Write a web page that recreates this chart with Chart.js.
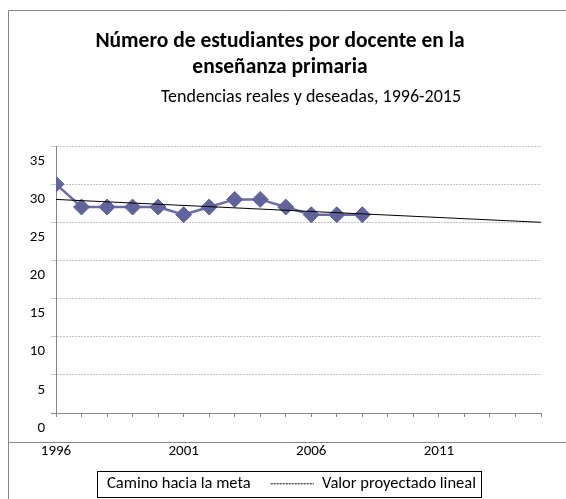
<!DOCTYPE html>
<html>
<head>
<meta charset="utf-8">
<script src="https://cdn.jsdelivr.net/npm/chart.js@4.4.1/dist/chart.umd.min.js"></script>
<style>
  html, body { margin: 0; padding: 0; background: #fff; overflow: hidden; }
</style>
</head>
<body>
<canvas id="chart-estudiantes-docente" width="566" height="499"></canvas>
<script>
// datos
const years = [1996, 1997, 1998, 1999, 2000, 2001, 2002, 2003, 2004, 2005, 2006, 2007, 2008];
const ratios = [30, 27, 27, 27, 27, 26, 27, 28, 28, 27, 26, 26, 26];
const trendYears = [1996, 2015];
const trendValues = [28.0, 25.0];
const seriesNames = ['Camino hacia la meta', 'Valor proyectado lineal'];
const xRange = [1996, 2015];
const xLabelStep = 5;
const yRange = [0, 35];
const yStep = 5;
const titleLines = ['Número de estudiantes por docente en la', 'enseñanza primaria'];
const subtitleText = 'Tendencias reales y deseadas, 1996-2015';

const fontFamily = "Carlito, Calibri, Lato, sans-serif";
const legendFontSize = 16.5;
const legendBoxWidth = 43;

function legendFrameBox(chart) {
  const hb = chart.legend.legendHitBoxes;
  return {
    x1: hb[0].left + legendBoxWidth + legendFontSize / 2 - 10,
    x2: hb[1].left + hb[1].width + 5,
    y1: hb[0].top + hb[0].height / 2 - 13
  };
}

// marco del grafico + recuadro de la leyenda
const frames = {
  id: 'frames',
  afterUpdate(chart) {
    const lg = chart.legend;
    const b = legendFrameBox(chart);
    const shift = 289 - (b.x1 + b.x2) / 2;
    lg.left += shift;
    lg.right += shift;
    lg.legendHitBoxes.forEach(h => { h.left += shift; });
  },
  beforeDraw(chart) {
    const ctx = chart.ctx;
    ctx.save();
    ctx.strokeStyle = '#868686';
    ctx.lineWidth = 1;
    ctx.beginPath();
    ctx.moveTo(566, 10.5);
    ctx.lineTo(8.5, 10.5);
    ctx.lineTo(8.5, 499);
    ctx.moveTo(8.5, 442.5);
    ctx.lineTo(566, 442.5);
    ctx.stroke();
    ctx.restore();
  },
  afterDraw(chart) {
    const ctx = chart.ctx;
    const b = legendFrameBox(chart);
    ctx.save();
    ctx.strokeStyle = '#000';
    ctx.lineWidth = 1;
    ctx.setLineDash([]);
    ctx.strokeRect(Math.round(b.x1) + 0.5, Math.round(b.y1) + 0.5, Math.round(b.x2 - b.x1), 26);
    ctx.font = '18px ' + fontFamily;
    ctx.fillStyle = '#000';
    ctx.textAlign = 'center';
    ctx.textBaseline = 'middle';
    ctx.fillText(subtitleText, 311, 97);
    ctx.restore();
  }
};

const chartElement = document.getElementById('chart-estudiantes-docente');

new Chart(chartElement, {
  type: 'line',
  data: {
    datasets: [
      {
        label: seriesNames[0],
        data: years.map((y, i) => ({ x: y, y: ratios[i] })),
        borderColor: '#6b6ba6',
        borderWidth: 2.5,
        pointStyle: 'rectRot',
        pointRadius: 8,
        pointHoverRadius: 8,
        pointBackgroundColor: '#63639c',
        pointBorderColor: '#63639c',
        pointBorderWidth: 1,
        order: 1
      },
      {
        label: seriesNames[1],
        data: trendYears.map((y, i) => ({ x: y, y: trendValues[i] })),
        borderColor: '#000',
        borderWidth: 1,
        pointRadius: 0,
        legendLine: '#555',
        order: 0
      }
    ]
  },
  options: {
    responsive: false,
    animation: false,
    layout: { padding: { top: 11, left: 16, right: 22, bottom: -3 } },
    scales: {
      x: {
        type: 'linear',
        min: xRange[0],
        max: xRange[1],
        border: { color: '#868686' },
        grid: { drawOnChartArea: false, tickLength: 4, color: '#868686' },
        ticks: {
          stepSize: 1,
          autoSkip: false,
          maxRotation: 0,
          padding: 25,
          color: '#000',
          font: { family: fontFamily, size: 15 },
          callback: v => (v - xRange[0]) % xLabelStep === 0 ? String(v) : ''
        },
        afterFit: s => { s.height = 42.5; }
      },
      y: {
        min: yRange[0],
        max: yRange[1],
        border: { color: '#868686', dash: [2, 1] },
        grid: {
          tickLength: 5,
          color: ctx => ctx.tick && ctx.tick.value === yRange[0] ? '#868686' : '#c4c4c4'
        },
        ticks: {
          stepSize: yStep,
          padding: 6,
          labelOffset: 15,
          color: '#000',
          font: { family: fontFamily, size: 15 }
        },
        afterFit: s => { s.width = 40; }
      }
    },
    plugins: {
      title: {
        display: true,
        text: titleLines,
        color: '#000',
        font: { family: fontFamily, size: 21.5, weight: 'bold', lineHeight: 1.21 },
        padding: { top: 18, bottom: 65 }
      },
      legend: {
        position: 'bottom',
        labels: {
          boxWidth: legendBoxWidth,
          boxHeight: 0,
          padding: 20,
          color: '#000',
          font: { family: fontFamily, size: legendFontSize },
          generateLabels: chart => chart.data.datasets.map((ds, i) => ({
            text: ds.label,
            fillStyle: 'rgba(0,0,0,0)',
            strokeStyle: ds.legendLine || 'rgba(0,0,0,0)',
            lineWidth: ds.legendLine ? 1 : 0,
            lineDash: [2, 1],
            hidden: false,
            datasetIndex: i
          }))
        }
      },
      tooltip: { enabled: false }
    }
  },
  plugins: [frames]
});
</script>
</body>
</html>
